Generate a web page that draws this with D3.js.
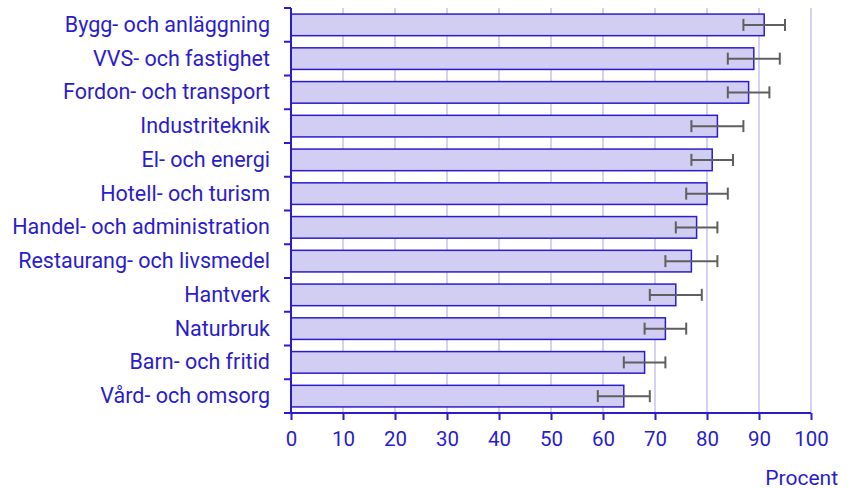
<!DOCTYPE html>
<html>
<head>
<meta charset="utf-8">
<script src="https://cdn.jsdelivr.net/npm/d3@7"></script>
<style>
body { margin: 0; background: #fff; }
svg text { font-family: Roboto, sans-serif; fill: #2a1ccc; }
</style>
</head>
<body>
<script>
(function(){
'use strict';

var categories = ['Bygg- och anläggning', 'VVS- och fastighet', 'Fordon- och transport', 'Industriteknik',
	'El- och energi', 'Hotell- och turism', 'Handel- och administration', 'Restaurang- och livsmedel',
	'Hantverk', 'Naturbruk', 'Barn- och fritid', 'Vård- och omsorg'];
var values = [91, 89, 88, 82, 81, 80, 78, 77, 74, 72, 68, 64];
var lower = [87, 84, 84, 77, 77, 76, 74, 72, 69, 68, 64, 59];
var upper = [95, 94, 92, 87, 85, 84, 82, 82, 79, 76, 72, 69];
var xTicks = [0, 10, 20, 30, 40, 50, 60, 70, 80, 90, 100];

var width = 852;
var height = 489;
var blue = '#2a1ccc';

var svg = d3.select('body').append('svg')
	.attr('width', width)
	.attr('height', height);

var x = d3.scaleLinear().domain([0, 100]).range([291, 811]);
var y = d3.scaleBand().domain(categories).range([8, 413]).paddingInner(0.36).paddingOuter(0.18);
var yTicks = d3.scaleBand().domain(categories).range([8, 413]);

// gridlines
svg.append('g').selectAll('line')
	.data(xTicks.slice(1))
	.enter().append('line')
	.attr('x1', function(d){ return x(d); })
	.attr('x2', function(d){ return x(d); })
	.attr('y1', 8)
	.attr('y2', 413)
	.attr('stroke', '#d4d2f2')
	.attr('stroke-width', 2);

// bars
svg.append('g').selectAll('rect')
	.data(values)
	.enter().append('rect')
	.attr('x', x(0))
	.attr('y', function(d, i){ return y(categories[i]); })
	.attr('width', function(d){ return x(d) - x(0); })
	.attr('height', y.bandwidth())
	.attr('fill', '#d2cdf2')
	.attr('stroke', blue)
	.attr('stroke-width', 1.5);

// error bars
var err = svg.append('g').attr('stroke', '#5f5f5f').attr('stroke-width', 2);
categories.forEach(function(c, i){
	var cy = y(c) + y.bandwidth() / 2;
	err.append('line').attr('x1', x(lower[i])).attr('x2', x(upper[i])).attr('y1', cy).attr('y2', cy);
	err.append('line').attr('x1', x(lower[i])).attr('x2', x(lower[i])).attr('y1', cy - 6).attr('y2', cy + 6);
	err.append('line').attr('x1', x(upper[i])).attr('x2', x(upper[i])).attr('y1', cy - 6).attr('y2', cy + 6);
});

// y axis
var yAxis = svg.append('g');
yAxis.append('line')
	.attr('x1', x(0)).attr('x2', x(0))
	.attr('y1', 8).attr('y2', 413)
	.attr('stroke', blue).attr('stroke-width', 2);
yAxis.selectAll('line.tick')
	.data(categories)
	.enter().append('line')
	.attr('class', 'tick')
	.attr('x1', x(0) - 7).attr('x2', x(0))
	.attr('y1', function(d){ return yTicks(d); })
	.attr('y2', function(d){ return yTicks(d); })
	.attr('stroke', blue).attr('stroke-width', 2);
yAxis.selectAll('text')
	.data(categories)
	.enter().append('text')
	.attr('x', 270)
	.attr('y', function(d){ return yTicks(d) + yTicks.bandwidth() / 2; })
	.attr('dy', '0.33em')
	.attr('text-anchor', 'end')
	.style('font-size', '21.5px')
	.text(function(d){ return d; });

// x axis
var xAxis = svg.append('g').attr('transform', 'translate(0,413)');
xAxis.call(d3.axisBottom(x).tickValues(xTicks).tickSize(7).tickPadding(11).tickSizeOuter(0));
xAxis.select('.domain').remove();
xAxis.append('line')
	.attr('x1', x(0) - 7).attr('x2', x(100))
	.attr('stroke', blue).attr('stroke-width', 2);
xAxis.selectAll('.tick line').attr('stroke', blue).attr('stroke-width', 2);
xAxis.selectAll('.tick text').style('font-size', '20.5px').attr('fill', blue);

svg.append('text')
	.attr('x', 838)
	.attr('y', 485)
	.attr('text-anchor', 'end')
	.style('font-size', '21px')
	.text('Procent');

})();
</script>
</body>
</html>
